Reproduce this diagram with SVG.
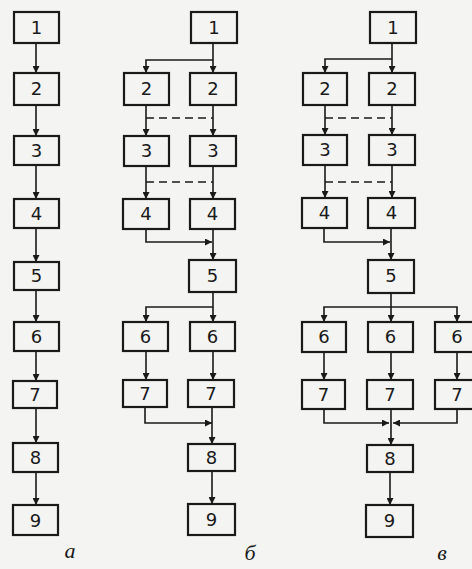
<svg xmlns="http://www.w3.org/2000/svg" width="472" height="569" viewBox="0 0 472 569">
<defs>
<style>
.b{fill:none;stroke:#1a1a1a;stroke-width:2.2}
.t{font-family:"DejaVu Sans","Liberation Sans",sans-serif;font-size:18px;fill:#1a1a1a;text-anchor:middle}
.c{fill:none;stroke:#1a1a1a;stroke-width:1.6}
.d{fill:none;stroke:#1a1a1a;stroke-width:1.6;stroke-dasharray:8 5}
.l{font-family:"Liberation Serif",serif;font-style:italic;font-size:22px;fill:#1a1a1a;text-anchor:middle}
</style>
<marker id="ah" viewBox="0 0 10 10" refX="10" refY="5" markerWidth="7" markerHeight="7" markerUnits="userSpaceOnUse" orient="auto">
<path d="M0,0 L10,5 L0,10 Z" fill="#1a1a1a"/>
</marker>
</defs>
<rect width="472" height="569" fill="#f4f4f2"/>
<g id="connectors">
<path class="c" marker-end="url(#ah)" d="M36,43 V73"/>
<path class="c" marker-end="url(#ah)" d="M36,105 V136"/>
<path class="c" marker-end="url(#ah)" d="M36,165 V199"/>
<path class="c" marker-end="url(#ah)" d="M36,228 V262"/>
<path class="c" marker-end="url(#ah)" d="M36,290 V322"/>
<path class="c" marker-end="url(#ah)" d="M36,351 V381"/>
<path class="c" marker-end="url(#ah)" d="M36,408 V443"/>
<path class="c" marker-end="url(#ah)" d="M36,472 V505"/>
<path class="c" marker-end="url(#ah)" d="M213,43 V73"/>
<path class="c" marker-end="url(#ah)" d="M213,60 H146 V73"/>
<path class="c" marker-end="url(#ah)" d="M146,105 V136"/>
<path class="c" marker-end="url(#ah)" d="M213,105 V136"/>
<path class="d" d="M146,118 H213"/>
<path class="c" marker-end="url(#ah)" d="M146,166 V199"/>
<path class="c" marker-end="url(#ah)" d="M213,166 V199"/>
<path class="d" d="M146,182 H213"/>
<path class="c" marker-end="url(#ah)" d="M146,229 V242 H212"/>
<path class="c" marker-end="url(#ah)" d="M213,229 V260"/>
<path class="c" marker-end="url(#ah)" d="M213,292 V322"/>
<path class="c" marker-end="url(#ah)" d="M213,307 H146 V322"/>
<path class="c" marker-end="url(#ah)" d="M146,351 V380"/>
<path class="c" marker-end="url(#ah)" d="M213,351 V380"/>
<path class="c" marker-end="url(#ah)" d="M145,407 V423 H212"/>
<path class="c" marker-end="url(#ah)" d="M212,407 V444"/>
<path class="c" marker-end="url(#ah)" d="M212,471 V504"/>
<path class="c" marker-end="url(#ah)" d="M392,43 V73"/>
<path class="c" marker-end="url(#ah)" d="M392,59 H325 V73"/>
<path class="c" marker-end="url(#ah)" d="M325,105 V135"/>
<path class="c" marker-end="url(#ah)" d="M392,105 V135"/>
<path class="d" d="M325,118 H392"/>
<path class="c" marker-end="url(#ah)" d="M325,165 V198"/>
<path class="c" marker-end="url(#ah)" d="M392,165 V198"/>
<path class="d" d="M325,182 H392"/>
<path class="c" marker-end="url(#ah)" d="M324,228 V242 H390"/>
<path class="c" marker-end="url(#ah)" d="M391,228 V260"/>
<path class="c" marker-end="url(#ah)" d="M391,293 V322"/>
<path class="c" marker-end="url(#ah)" d="M391,307 H324 V322"/>
<path class="c" marker-end="url(#ah)" d="M391,307 H457 V322"/>
<path class="c" marker-end="url(#ah)" d="M324,352 V380"/>
<path class="c" marker-end="url(#ah)" d="M391,352 V380"/>
<path class="c" marker-end="url(#ah)" d="M457,352 V380"/>
<path class="c" marker-end="url(#ah)" d="M324,409 V423 H389"/>
<path class="c" marker-end="url(#ah)" d="M457,409 V423 H393"/>
<path class="c" marker-end="url(#ah)" d="M391,409 V445"/>
<path class="c" marker-end="url(#ah)" d="M390,472 V505"/>
</g>
<g id="a1"><rect class="b" x="14" y="12" width="45" height="31"/><text class="t" x="36.5" y="34">1</text></g>
<g id="a2"><rect class="b" x="14" y="73" width="45" height="32"/><text class="t" x="36.5" y="95">2</text></g>
<g id="a3"><rect class="b" x="14" y="136" width="45" height="29"/><text class="t" x="36.5" y="157">3</text></g>
<g id="a4"><rect class="b" x="14" y="199" width="45" height="29"/><text class="t" x="36.5" y="220">4</text></g>
<g id="a5"><rect class="b" x="14" y="262" width="45" height="28"/><text class="t" x="36.5" y="282">5</text></g>
<g id="a6"><rect class="b" x="14" y="322" width="45" height="29"/><text class="t" x="36.5" y="343">6</text></g>
<g id="a7"><rect class="b" x="13" y="381" width="44" height="27"/><text class="t" x="35" y="401">7</text></g>
<g id="a8"><rect class="b" x="13" y="443" width="45" height="29"/><text class="t" x="35.5" y="464">8</text></g>
<g id="a9"><rect class="b" x="13" y="505" width="45" height="30"/><text class="t" x="35.5" y="527">9</text></g>
<g id="b1"><rect class="b" x="191" y="12" width="46" height="31"/><text class="t" x="214" y="34">1</text></g>
<g id="b2l"><rect class="b" x="124" y="73" width="45" height="32"/><text class="t" x="146.5" y="95">2</text></g>
<g id="b2r"><rect class="b" x="190" y="73" width="46" height="32"/><text class="t" x="213" y="95">2</text></g>
<g id="b3l"><rect class="b" x="124" y="136" width="45" height="30"/><text class="t" x="146.5" y="157">3</text></g>
<g id="b3r"><rect class="b" x="190" y="136" width="46" height="30"/><text class="t" x="213" y="157">3</text></g>
<g id="b4l"><rect class="b" x="123" y="199" width="46" height="30"/><text class="t" x="146" y="220">4</text></g>
<g id="b4r"><rect class="b" x="190" y="199" width="45" height="30"/><text class="t" x="212.5" y="220">4</text></g>
<g id="b5"><rect class="b" x="189" y="260" width="47" height="32"/><text class="t" x="212.5" y="282">5</text></g>
<g id="b6l"><rect class="b" x="123" y="322" width="45" height="29"/><text class="t" x="145.5" y="343">6</text></g>
<g id="b6r"><rect class="b" x="190" y="322" width="45" height="29"/><text class="t" x="212.5" y="343">6</text></g>
<g id="b7l"><rect class="b" x="123" y="380" width="44" height="27"/><text class="t" x="145" y="400">7</text></g>
<g id="b7r"><rect class="b" x="188" y="380" width="46" height="27"/><text class="t" x="211" y="400">7</text></g>
<g id="b8"><rect class="b" x="188" y="444" width="47" height="27"/><text class="t" x="211.5" y="464">8</text></g>
<g id="b9"><rect class="b" x="188" y="504" width="47" height="31"/><text class="t" x="211.5" y="526">9</text></g>
<g id="v1"><rect class="b" x="370" y="12" width="46" height="31"/><text class="t" x="393" y="34">1</text></g>
<g id="v2l"><rect class="b" x="303" y="73" width="44" height="32"/><text class="t" x="325" y="95">2</text></g>
<g id="v2r"><rect class="b" x="369" y="73" width="46" height="32"/><text class="t" x="392" y="95">2</text></g>
<g id="v3l"><rect class="b" x="303" y="135" width="44" height="30"/><text class="t" x="325" y="156">3</text></g>
<g id="v3r"><rect class="b" x="369" y="135" width="46" height="30"/><text class="t" x="392" y="156">3</text></g>
<g id="v4l"><rect class="b" x="302" y="198" width="45" height="30"/><text class="t" x="324.5" y="219">4</text></g>
<g id="v4r"><rect class="b" x="368" y="198" width="47" height="30"/><text class="t" x="391.5" y="219">4</text></g>
<g id="v5"><rect class="b" x="368" y="260" width="46" height="33"/><text class="t" x="391" y="282">5</text></g>
<g id="v6l"><rect class="b" x="302" y="322" width="44" height="30"/><text class="t" x="324" y="343">6</text></g>
<g id="v6m"><rect class="b" x="368" y="322" width="45" height="30"/><text class="t" x="390.5" y="343">6</text></g>
<g id="v6r"><rect class="b" x="435" y="322" width="46" height="30"/><text class="t" x="457" y="343">6</text></g>
<g id="v7l"><rect class="b" x="302" y="380" width="43" height="29"/><text class="t" x="323.5" y="401">7</text></g>
<g id="v7m"><rect class="b" x="367" y="380" width="46" height="29"/><text class="t" x="390" y="401">7</text></g>
<g id="v7r"><rect class="b" x="435" y="380" width="46" height="29"/><text class="t" x="457" y="401">7</text></g>
<g id="v8"><rect class="b" x="367" y="445" width="46" height="27"/><text class="t" x="390" y="465">8</text></g>
<g id="v9"><rect class="b" x="366" y="505" width="47" height="32"/><text class="t" x="389.5" y="527">9</text></g>
<g id="labels">
<text class="l" x="70" y="558">а</text>
<text class="l" x="250" y="560">б</text>
<text class="l" x="442" y="560">в</text>
</g>
</svg>
